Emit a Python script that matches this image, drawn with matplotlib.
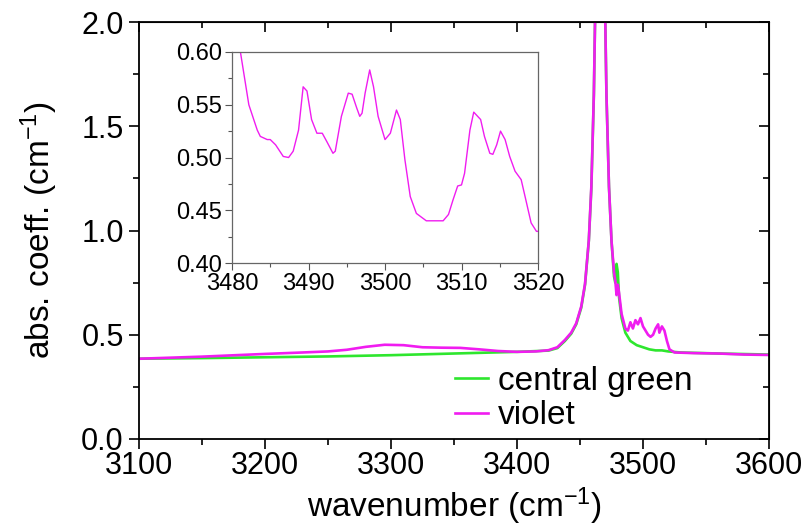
import matplotlib
matplotlib.use("Agg")
import matplotlib.pyplot as plt
from matplotlib.ticker import MultipleLocator

plt.rcParams["font.family"] = ["Liberation Sans", "DejaVu Sans"]
plt.rcParams["mathtext.default"] = "regular"

# violet sample, full range
wn_violet = [3100, 3150, 3200, 3230, 3250, 3265, 3280, 3295, 3310, 3325, 3340, 3355,
             3370, 3385, 3400, 3415, 3425, 3432, 3438, 3443, 3447, 3451, 3454, 3457,
             3459, 3461, 3463, 3465, 3466, 3467, 3469, 3471, 3473, 3475, 3477, 3478,
             3479, 3480, 3481, 3483, 3486, 3488, 3490, 3492, 3494, 3496, 3498, 3500,
             3502, 3504, 3506, 3508, 3510, 3512, 3513, 3515, 3517, 3519, 3521, 3525,
             3540, 3560, 3580, 3600]
abs_violet = [0.385, 0.395, 0.408, 0.415, 0.420, 0.428, 0.442, 0.452, 0.450, 0.440, 0.438, 0.437,
              0.430, 0.422, 0.418, 0.420, 0.426, 0.440, 0.475, 0.510, 0.555, 0.636, 0.745, 0.953,
              1.21, 1.655, 2.40, 3.20, 3.40, 3.20, 2.40, 1.65, 1.21, 0.95, 0.80, 0.76,
              0.69, 0.74, 0.70, 0.60, 0.53, 0.52, 0.56, 0.53, 0.57, 0.55, 0.58, 0.54,
              0.52, 0.50, 0.49, 0.50, 0.53, 0.55, 0.51, 0.54, 0.52, 0.47, 0.43, 0.415,
              0.412, 0.410, 0.405, 0.403]

# central green sample
wn_green = [3100, 3150, 3200, 3250, 3300, 3350, 3400, 3425, 3432, 3438, 3443, 3447,
            3451, 3454, 3457, 3459, 3461, 3463, 3465, 3466, 3467, 3469, 3471, 3473,
            3475, 3477, 3478, 3479, 3480, 3481, 3483, 3486, 3490, 3495, 3500, 3505,
            3510, 3515, 3520, 3530, 3560, 3600]
abs_green = [0.385, 0.388, 0.392, 0.396, 0.402, 0.410, 0.418, 0.424, 0.436, 0.470, 0.505, 0.550,
             0.630, 0.740, 0.950, 1.20, 1.65, 2.40, 3.20, 3.40, 3.20, 2.40, 1.65, 1.21,
             0.95, 0.78, 0.75, 0.84, 0.80, 0.68, 0.58, 0.51, 0.47, 0.45, 0.44, 0.43,
             0.425, 0.425, 0.420, 0.415, 0.410, 0.405]

# inset: violet, 3480-3520
wn_inset = [3480, 3481.1, 3482.2, 3483.3, 3483.7, 3484.6, 3485.0, 3485.7, 3486.7, 3487.4,
            3488.0, 3488.7, 3489.3, 3489.8, 3490.4, 3491.1, 3491.8, 3492.4, 3493.2, 3493.5,
            3494.3, 3495.2, 3495.7, 3496.3, 3496.7, 3497.0, 3497.4, 3498.0, 3498.5, 3499.1,
            3500.0, 3500.7, 3501.5, 3502.0, 3502.6, 3503.3, 3504.1, 3505.4, 3506.7, 3507.6,
            3508.3, 3508.9, 3509.5, 3510.0, 3510.4, 3511.1, 3511.6, 3512.5, 3513.0, 3513.7,
            3514.1, 3514.6, 3515.1, 3515.7, 3516.3, 3517.0, 3517.8, 3518.5, 3519.1, 3519.8,
            3520]
abs_inset = [0.640, 0.600, 0.550, 0.526, 0.520, 0.517, 0.517, 0.512, 0.501, 0.500,
             0.506, 0.526, 0.567, 0.563, 0.536, 0.523, 0.523, 0.515, 0.504, 0.506,
             0.539, 0.561, 0.560, 0.547, 0.539, 0.542, 0.561, 0.583, 0.567, 0.539,
             0.517, 0.523, 0.545, 0.536, 0.498, 0.463, 0.447, 0.440, 0.440, 0.440,
             0.446, 0.460, 0.473, 0.474, 0.485, 0.526, 0.543, 0.536, 0.520, 0.504,
             0.503, 0.512, 0.525, 0.517, 0.501, 0.487, 0.479, 0.457, 0.438, 0.430,
             0.430]

GREEN = "#2ee62e"
VIOLET = "#f01cf0"

W, H = 810, 529
fig = plt.figure(figsize=(W / 100, H / 100), dpi=100)
ax = fig.add_axes([139 / W, 1 - 439 / H, 630 / W, 417 / H])

ax.plot(wn_green, abs_green, color=GREEN, lw=1.9, label="central green")
ax.plot(wn_violet, abs_violet, color=VIOLET, lw=1.9, label="violet")

ax.set_xlim(3100, 3600)
ax.set_ylim(0, 2.0)
ax.xaxis.set_major_locator(MultipleLocator(100))
ax.xaxis.set_minor_locator(MultipleLocator(50))
ax.yaxis.set_major_locator(MultipleLocator(0.5))
ax.yaxis.set_minor_locator(MultipleLocator(0.25))
ax.tick_params(which="both", direction="out", labelsize=22, width=1.2)
ax.tick_params(axis="y", pad=4)
ax.tick_params(axis="x", pad=2)
ax.tick_params(which="major", length=7)
ax.tick_params(which="minor", length=4)
for s in ax.spines.values():
    s.set_linewidth(1.3)

top = ax.secondary_xaxis("top")
top.xaxis.set_major_locator(MultipleLocator(100))
top.xaxis.set_minor_locator(MultipleLocator(50))
top.tick_params(which="both", direction="in", labeltop=False, width=1.2)
top.tick_params(which="major", length=7)
top.tick_params(which="minor", length=4)
right = ax.secondary_yaxis("right")
right.yaxis.set_major_locator(MultipleLocator(0.5))
right.yaxis.set_minor_locator(MultipleLocator(0.25))
right.tick_params(which="both", direction="in", labelright=False, width=1.2)
right.tick_params(which="major", length=7)
right.tick_params(which="minor", length=4)

ax.set_xlabel("wavenumber (cm$^{-1}$)", fontsize=24, labelpad=3)
ax.set_ylabel("abs. coeff. (cm$^{-1}$)", fontsize=24, labelpad=15)

ax.legend(loc="upper left", bbox_to_anchor=(455 / W, 1 - 366 / H),
          bbox_transform=fig.transFigure, frameon=False,
          fontsize=24, handlelength=1.0, handletextpad=0.3, labelspacing=0.1,
          borderpad=0, borderaxespad=0)

ins = fig.add_axes([232 / W, 1 - 263 / H, 306 / W, 211 / H])
ins.plot(wn_inset, abs_inset, color=VIOLET, lw=1.0)
ins.set_xlim(3480, 3520)
ins.set_ylim(0.40, 0.60)
ins.xaxis.set_major_locator(MultipleLocator(10))
ins.xaxis.set_minor_locator(MultipleLocator(5))
ins.yaxis.set_major_locator(MultipleLocator(0.05))
ins.yaxis.set_minor_locator(MultipleLocator(0.025))
ins.yaxis.set_major_formatter(plt.FormatStrFormatter("%.2f"))
ins.tick_params(which="both", direction="out", labelsize=17, width=0.8, color="#555555", pad=2)
ins.tick_params(which="major", length=5)
ins.tick_params(which="minor", length=3)
for s in ins.spines.values():
    s.set_linewidth(0.9)
    s.set_color("#666666")

fig.savefig("out.png", dpi=100)
